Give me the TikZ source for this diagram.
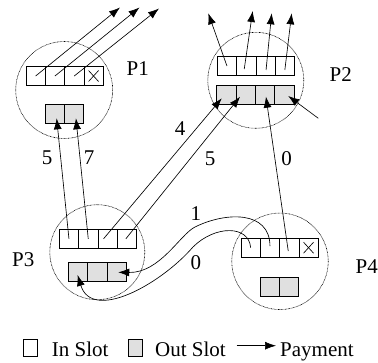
\documentclass[tikz,border=0pt]{standalone}
\usepackage{fontspec}
\setmainfont{Liberation Serif}
\usetikzlibrary{arrows.meta,calc}
\definecolor{outfill}{RGB}{224,224,224}
\begin{document}
\begin{tikzpicture}[x=1pt,y=-1pt,
  peer/.style={circle,draw=black,line width=0.6pt,dash pattern=on 0.7pt off 0.7pt,minimum size=#1,inner sep=0},
  cell/.style={rectangle,draw,line width=0.75pt,minimum width=19.3pt,minimum height=19pt,inner sep=0},
  incell/.style={cell,fill=white},
  outcell/.style={cell,fill=outfill},
  pay/.style={line width=0.65pt,-{Latex[length=11pt,width=8pt]}},
  lbl/.style={font=\fontsize{21}{25}\selectfont,inner sep=0},
  cross/.style={line width=0.65pt}]
\useasboundingbox (0,0) rectangle (378,362);

% peers
\node[peer=97pt] (P1) at (64.2,90) {};
\node[peer=96pt] (P2) at (255.8,80.3) {};
\node[peer=95pt] (P3) at (97.3,252.2) {};
\node[peer=96.5pt] (P4) at (280,261.3) {};

\node[lbl] (n1) at (137.8,68.3) {P1};
\node[lbl] (n2) at (340.8,75) {P2};
\node[lbl] (n3) at (23.3,260) {P3};
\node[lbl] (n4) at (366.7,266.7) {P4};

% slots
\foreach \i in {1,...,4} \node[incell] (p1i\i) at ({35.65+19.3*(\i-1)},76) {};
\foreach \i in {1,2} \node[outcell] (p1o\i) at ({54.65+19.3*(\i-1)},113.8) {};
\foreach \i in {1,...,4} \node[incell] (p2i\i) at ({226.95+19.3*(\i-1)},66) {};
\foreach \i in {1,...,4} \node[outcell] (p2o\i) at ({226.35+19.3*(\i-1)},94.5) {};
\foreach \i in {1,...,4} \node[incell] (p3i\i) at ({68.95+19.3*(\i-1)},238.8) {};
\foreach \i in {1,...,3} \node[outcell] (p3o\i) at ({77.95+19.3*(\i-1)},272) {};
\foreach \i in {1,...,4} \node[incell] (p4i\i) at ({250.65+19.3*(\i-1)},247.7) {};
\foreach \i in {1,2} \node[outcell] (p4o\i) at ({269.65+19.3*(\i-1)},286.7) {};

% closed slots
\foreach \c in {p1i4,p4i4}{
  \draw[cross] ([shift={(-5,-5.5)}]\c.center) -- ([shift={(5,5.5)}]\c.center);
  \draw[cross] ([shift={(-5,5.5)}]\c.center) -- ([shift={(5,-5.5)}]\c.center);
}

% outgoing payments leaving the picture
\coordinate (t11) at (120,7.5);
\coordinate (t12) at (139.5,7.5);
\coordinate (t13) at (159,8.5);
\draw[pay] (p1i1.center) -- (t11);
\draw[pay] (p1i2.center) -- (t12);
\draw[pay] (p1i3.center) -- (t13);

\coordinate (t21) at (208.3,13.3);
\coordinate (t22) at (252.7,11);
\coordinate (t23) at (271.7,13.3);
\coordinate (t24) at (291.7,13.3);
\draw[pay] (p2i1.center) -- (t21);
\draw[pay] ([shift={(-2,3)}]p2i2.center) -- (t22);
\draw[pay] ([shift={(0.5,4)}]p2i3.center) -- (t23);
\draw[pay] ([shift={(0,4)}]p2i4.center) -- (t24);

% incoming payment from outside
\coordinate (s24) at (318.3,118.3);
\draw[pay] (s24) -- ([shift={(4,1.5)}]p2o4.center);

% payments between peers
\draw[pay] (p3i1.center) -- ([shift={(2,4.5)}]p1o1.center);
\draw[pay] (p3i2.center) -- ([shift={(2,4.5)}]p1o2.center);
\draw[pay] ([shift={(-4,0)}]p3i3.center) -- ([shift={(-4.6,3.8)}]p2o1.center);
\draw[pay] ([shift={(-1,0)}]p3i4.center) -- ([shift={(-5.6,2.2)}]p2o2.center);
\draw[pay] ([shift={(-1,3.3)}]p4i3.center) -- ([shift={(1,2.2)}]p2o3.center);

\coordinate (k1) at (195,227);
\draw[pay] ([shift={(0,-1.5)}]p4i2.center) .. controls (270,210) and (225,212) .. (k1)
  .. controls (180,234.5) and (160,273) .. ([shift={(1.7,0.3)}]p3o3.center);
\coordinate (k0) at (193,247);
\draw[pay] (p4i1.center) .. controls (249,225) and (215,225) .. (k0)
  .. controls (160,285) and (92,322) .. ([shift={(-0.3,3)}]p3o1.center);

% amounts
\node[lbl] (a1) at (47,157.5) {5};
\node[lbl] (a2) at (89,157.5) {7};
\node[lbl] (a3) at (180,129) {4};
\node[lbl] (a4) at (210,158.3) {5};
\node[lbl] (a5) at (286.7,158.3) {0};
\node[lbl] (a6) at (195.8,214) {1};
\node[lbl] (a7) at (195.8,262.5) {0};

% legend
\node[incell,minimum width=14.5pt,minimum height=16.5pt] (legin) at (30.5,347.7) {};
\node[lbl,anchor=base west] (legintext) at (51.7,356.5) {In Slot};
\node[outcell,minimum width=14.5pt,minimum height=16.5pt] (legout) at (135.5,347.7) {};
\node[lbl,anchor=base west] (legouttext) at (155,356.5) {Out Slot};
\coordinate (la) at (236.7,345.7);
\coordinate (lb) at (276,345.7);
\draw[pay] (la) -- (lb);
\node[lbl,anchor=base west] (legpay) at (280,356.5) {Payment};
\end{tikzpicture}
\end{document}
